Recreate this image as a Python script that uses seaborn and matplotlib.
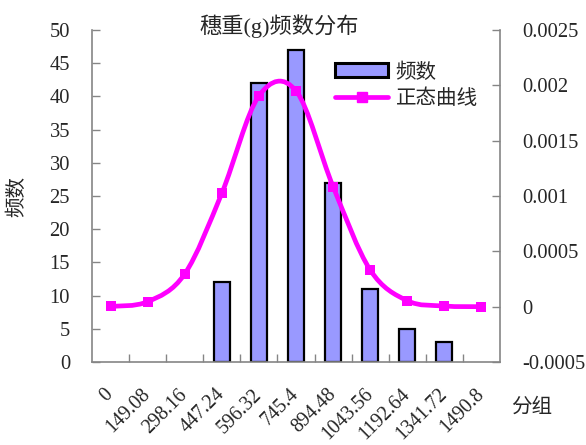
import numpy as np
import pandas as pd
import matplotlib
matplotlib.use("Agg")
import matplotlib.pyplot as plt
from matplotlib.path import Path
from matplotlib.patches import PathPatch, Patch
from matplotlib.lines import Line2D
from matplotlib.ticker import FixedLocator, FuncFormatter
import seaborn as sns

# Grouped spike weight data
groups = ["0", "149.08", "298.16", "447.24", "596.32", "745.4",
          "894.48", "1043.56", "1192.64", "1341.72", "1490.8"]
counts = [0, 0, 0, 12, 42, 47, 27, 11, 5, 3, 0]
normal_density = [0.000002, 0.000045, 0.000296, 0.001025, 0.001905, 0.00195,
                  0.001085, 0.000332, 0.000054, 0.000006, 0.0]
left_ticks = [0, 5, 10, 15, 20, 25, 30, 35, 40, 45, 50]
right_ticks = [-0.0005, 0.0, 0.0005, 0.001, 0.0015, 0.002, 0.0025]

sns.set_style("white")
plt.rcParams["font.family"] = ["Liberation Serif", "Noto Sans CJK SC"]
plt.rcParams["axes.unicode_minus"] = False

GRAY = "#858585"
BAR = "#9999FF"
CURVE = "#FF00FF"
FS = 14.8

W, H = 586, 445
fig = plt.figure(figsize=(W / 100, H / 100), dpi=100)
ax = fig.add_axes([92 / W, 1 - 362 / H, (500 - 92) / W, (362 - 30) / H])

df = pd.DataFrame({"分组": groups, "频数": counts})
sns.barplot(data=df, x="分组", y="频数", order=groups, color=BAR,
            saturation=1, width=0.43, edgecolor="black", linewidth=1.6,
            errorbar=None, ax=ax)
for p in ax.patches:
    if p.get_height() == 0:
        p.set_visible(False)

n = len(groups)
ax.set_xlim(-0.5, n - 0.5)
ax.set_ylim(0, 50)
ax.set_xlabel("")
ax.set_ylabel("")

# category boundaries get the tick marks, centres get the labels
ax.set_xticks(np.arange(n - 1) + 0.5)
ax.set_xticklabels([])
ax.set_xticks(np.arange(n), labels=groups, minor=True, rotation=45,
              ha="right", va="center", rotation_mode="anchor")
ax.tick_params(axis="x", which="major", direction="in", length=6, width=1,
               color=GRAY, bottom=True)
ax.tick_params(axis="x", which="minor", length=0, pad=21.5, labelsize=14.3,
               bottom=True)
ax.yaxis.set_major_locator(FixedLocator(left_ticks))
ax.tick_params(axis="y", direction="in", length=6, width=1, color=GRAY,
               left=True, pad=15.8, labelsize=FS)

for side in ("top", "right"):
    ax.spines[side].set_visible(False)
for side in ("left", "bottom"):
    ax.spines[side].set_color(GRAY)
    ax.spines[side].set_linewidth(1.2)

# secondary axis with the smoothed normal curve
ax2 = ax.twinx()
xs = np.arange(n, dtype=float)
ys = np.asarray(normal_density)
verts = [(xs[0], ys[0])]
codes = [Path.MOVETO]
for i in range(n - 1):
    a = max(i - 1, 0)
    d = min(i + 2, n - 1)
    c1 = (xs[i] + (xs[i + 1] - xs[a]) / 6, ys[i] + (ys[i + 1] - ys[a]) / 6)
    c2 = (xs[i + 1] - (xs[d] - xs[i]) / 6, ys[i + 1] - (ys[d] - ys[i]) / 6)
    verts += [c1, c2, (xs[i + 1], ys[i + 1])]
    codes += [Path.CURVE4, Path.CURVE4, Path.CURVE4]
ax2.add_patch(PathPatch(Path(verts, codes), fill=False, edgecolor=CURVE,
                        linewidth=3.4, capstyle="round", joinstyle="round"))
sns.scatterplot(x=xs, y=ys, marker="s", s=42, color=CURVE, linewidth=0,
                ax=ax2, zorder=3)

ax2.set_xlim(-0.5, n - 0.5)
ax2.set_ylim(-0.0005, 0.0025)
ax2.yaxis.set_major_locator(FixedLocator(right_ticks))
ax2.yaxis.set_major_formatter(FuncFormatter(lambda v, p: f"{round(v, 6) + 0.0:g}"))
ax2.tick_params(axis="y", direction="in", length=6, width=1, color=GRAY,
                right=True, pad=15.8, labelsize=FS)
for side in ("top", "left", "bottom"):
    ax2.spines[side].set_visible(False)
ax2.spines["right"].set_color(GRAY)
ax2.spines["right"].set_linewidth(1.2)

handles = [Patch(facecolor=BAR, edgecolor="black", linewidth=2.2),
           Line2D([], [], color=CURVE, linewidth=3.4, marker="s", markersize=6.5)]
fig.legend(handles, ["频数", "正态曲线"], loc="upper left",
           bbox_to_anchor=(335 / W, 1 - 63 / H), frameon=False, borderpad=0,
           borderaxespad=0, handlelength=2.6, handletextpad=0.35,
           labelspacing=0.35, fontsize=FS)

fig.text(279.5 / W, 1 - 26 / H, "穗重(g)频数分布", ha="center", va="center",
         fontsize=16)
fig.text(18 / W, 1 - 197 / H, "频数", rotation=90, ha="center", va="center",
         fontsize=FS)
fig.text(532 / W, 1 - 408 / H, "分组", ha="center", va="center", fontsize=FS)

fig.savefig("out.png", dpi=100)
